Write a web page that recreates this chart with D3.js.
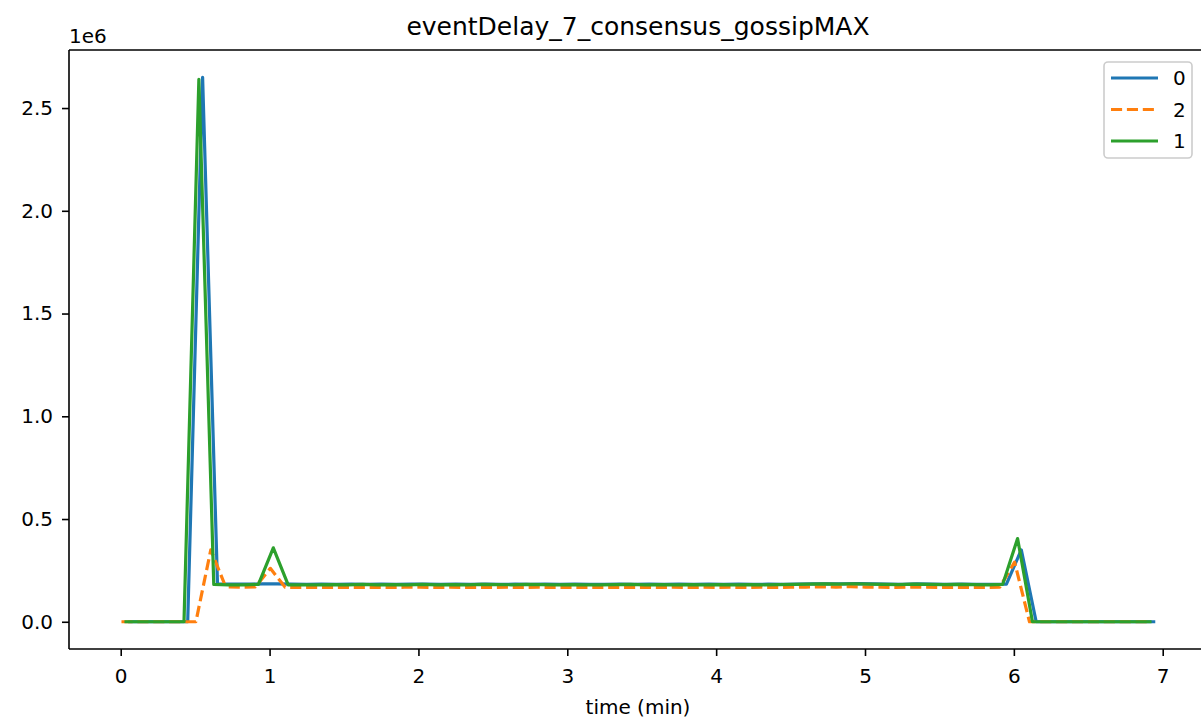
<!DOCTYPE html>
<html>
<head>
<meta charset="utf-8">
<script src="https://cdn.jsdelivr.net/npm/d3@7/dist/d3.min.js"></script>
<style>
  html, body { margin: 0; padding: 0; background: #fff; }
  svg { display: block; font-family: "DejaVu Sans", sans-serif; }
</style>
</head>
<body>
<svg id="chart" width="1201" height="721"></svg>
<script>
// ---- data (values in units of 1e6) ----
const title = "eventDelay_7_consensus_gossipMAX";
const xLabel = "time (min)";
const xTicks = [0, 1, 2, 3, 4, 5, 6, 7];
const yTicks = [0, 0.5, 1.0, 1.5, 2.0, 2.5];
const seriesNames = ["0", "2", "1"];
const seriesStart = [0.05, 0.005, 0.025];
const seriesStep = 0.1;

const values0 = [
  0,0,0,0,0, 2.65, 0.185,0.183,0.183,0.184,0.184,0.183,0.182,0.183,0.182,0.183,0.182,0.183,0.182,0.183,
  0.183,0.182,0.183,0.182,0.183,0.182,0.183,0.182,0.183,0.182,0.183,0.182,0.182,0.183,0.182,0.183,0.182,0.183,0.182,0.183,
  0.182,0.183,0.182,0.183,0.182,0.183,0.184,0.185,0.184,0.186,0.184,0.183,0.182,0.184,0.183,0.182,0.183,0.182,0.182,
  0.183, 0.35, 0,0,0,0,0,0,0,0,0
];
const values2 = [
  0,0,0,0,0,0, 0.35, 0.170,0.168,0.170,0.26,0.168,0.167,0.168,0.167,0.168,0.167,0.168,0.167,0.168,
  0.168,0.167,0.168,0.167,0.168,0.167,0.168,0.167,0.168,0.167,0.168,0.167,0.167,0.168,0.167,0.168,0.167,0.168,0.167,0.168,
  0.167,0.168,0.167,0.168,0.167,0.168,0.169,0.170,0.169,0.171,0.169,0.168,0.167,0.169,0.168,0.167,0.168,0.167,0.167,
  0.168, 0.29, 0,0,0,0,0,0,0,0,0
];
const values1 = [
  0,0,0,0,0, 2.64, 0.182,0.180,0.180,0.182,0.36,0.180,0.180,0.180,0.181,0.180,0.182,0.180,0.181,0.180,
  0.182,0.180,0.181,0.180,0.182,0.181,0.180,0.182,0.181,0.180,0.181,0.180,0.180,0.181,0.182,0.180,0.181,0.180,0.181,0.180,
  0.181,0.180,0.181,0.180,0.181,0.182,0.183,0.184,0.183,0.185,0.183,0.182,0.181,0.183,0.182,0.181,0.182,0.181,0.180,
  0.182, 0.405, 0,0,0,0,0,0,0,0,0
];
const seriesValues = [values0, values2, values1];
const colors = ["#1f77b4", "#ff7f0e", "#2ca02c"];
const dashes = [null, "11.1,4.8", null];

// ---- layout ----
const svg = d3.select("#chart");
const L = 69, R = 1207, T = 50, B = 649;
const FS = "20px";
const x = d3.scaleLinear().domain([-0.3475, 7.2975]).range([L, R]);
const y = d3.scaleLinear().domain([-0.1325, 2.7825]).range([B, T]);

const defs = svg.append("defs");
defs.append("clipPath").attr("id", "clip")
  .append("rect").attr("x", L).attr("y", T).attr("width", R - L).attr("height", B - T);

// lines
const line = d3.line().x(d => x(d[0])).y(d => y(d[1]));
const plot = svg.append("g").attr("clip-path", "url(#clip)");
seriesValues.forEach((vals, i) => {
  const pts = vals.map((v, k) => [seriesStart[i] + seriesStep * k, v]);
  plot.append("path")
    .datum(pts)
    .attr("d", line)
    .attr("fill", "none")
    .attr("stroke", colors[i])
    .attr("stroke-width", 3.2)
    .attr("stroke-linejoin", "round")
    .attr("stroke-linecap", "butt")
    .attr("stroke-dasharray", dashes[i]);
});

// axes
const xAxis = d3.axisBottom(x).tickValues(xTicks).tickFormat(d3.format("d")).tickSize(7).tickPadding(13);
const yAxis = d3.axisLeft(y).tickValues(yTicks).tickFormat(d3.format(".1f")).tickSize(7).tickPadding(9);

const gx = svg.append("g").attr("transform", `translate(0,${B})`).call(xAxis);
const gy = svg.append("g").attr("transform", `translate(${L},0)`).call(yAxis);
[gx, gy].forEach(g => {
  g.select(".domain").remove();
  g.selectAll(".tick line").attr("stroke", "#000").attr("stroke-width", 1.6);
  g.selectAll(".tick text").attr("fill", "#000").style("font-size", FS).style("font-family", "DejaVu Sans");
});

// spines
const spine = svg.append("g").attr("stroke", "#000").attr("stroke-width", 1.6).attr("fill", "none");
spine.append("line").attr("x1", L).attr("x2", L).attr("y1", T).attr("y2", B);
spine.append("line").attr("x1", L).attr("x2", R).attr("y1", B).attr("y2", B);
spine.append("line").attr("x1", L).attr("x2", R).attr("y1", T).attr("y2", T);
spine.append("line").attr("x1", R).attr("x2", R).attr("y1", T).attr("y2", B);

// offset text
svg.append("text").attr("x", L).attr("y", 43).text("1e6")
  .style("font-size", FS).attr("fill", "#000");

// title
svg.append("text").attr("x", (L + R) / 2).attr("y", 35).attr("text-anchor", "middle")
  .text(title).style("font-size", "25px").attr("fill", "#000");

// x label
svg.append("text").attr("x", (L + R) / 2).attr("y", 714).attr("text-anchor", "middle")
  .text(xLabel).style("font-size", FS).attr("fill", "#000");

// legend
const lg = svg.append("g");
lg.append("rect").attr("x", 1104).attr("y", 62).attr("width", 88).attr("height", 96)
  .attr("rx", 4).attr("fill", "#fff").attr("fill-opacity", 0.8)
  .attr("stroke", "#cccccc").attr("stroke-width", 1.6);
seriesNames.forEach((name, i) => {
  const cy = 78 + i * 31.5;
  lg.append("line").attr("x1", 1111).attr("x2", 1158).attr("y1", cy).attr("y2", cy)
    .attr("stroke", colors[i]).attr("stroke-width", 3.2)
    .attr("stroke-dasharray", dashes[i]);
  lg.append("text").attr("x", 1173).attr("y", cy).attr("dy", "0.35em")
    .text(name).style("font-size", FS).attr("fill", "#000");
});
</script>
</body>
</html>
